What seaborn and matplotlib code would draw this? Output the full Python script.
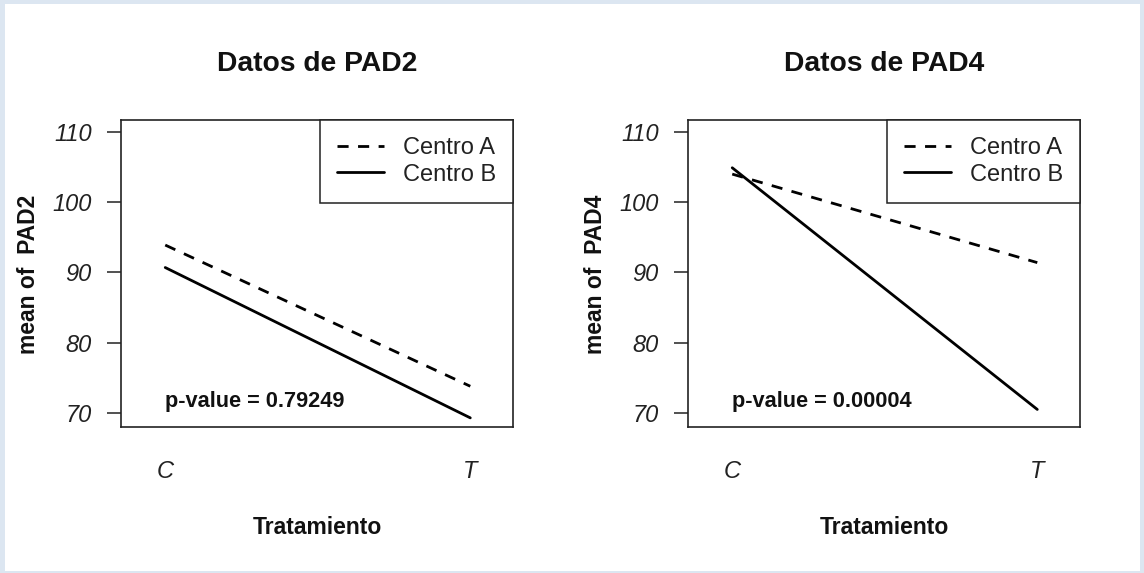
import matplotlib
matplotlib.use("Agg")
import matplotlib.pyplot as plt
import seaborn as sns
import pandas as pd
from matplotlib.lines import Line2D
from matplotlib.patches import Rectangle

# ---- data ----
tratamiento = ["C", "T"]
centros = ["Centro A", "Centro B"]
pad2_centro_a = [93.9, 73.8]
pad2_centro_b = [90.7, 69.3]
pad4_centro_a = [104.0, 91.4]
pad4_centro_b = [104.9, 70.5]
titles = ["Datos de PAD2", "Datos de PAD4"]
ylabels = ["mean of  PAD2", "mean of  PAD4"]
pvalues = ["p-value = 0.79249", "p-value = 0.00004"]
yticks = [70, 80, 90, 100, 110]

sns.set_theme(style="white")
plt.rcParams["font.family"] = ["Liberation Sans", "DejaVu Sans"]

W, H = 1144, 573
fig = plt.figure(figsize=(W / 100, H / 100), dpi=100)
fig.patch.set_facecolor("#dce6f1")
fig.patches.append(Rectangle((5 / W, 1 - 571 / H), (1140 - 5) / W, (571 - 4) / H,
                             transform=fig.transFigure, facecolor="white",
                             edgecolor="none", zorder=-5))

def make_df(a, b):
    rows = []
    for c, vals in zip(centros, [a, b]):
        for t, v in zip(tratamiento, vals):
            rows.append({"Tratamiento": t, "Centro": c, "mean": v})
    return pd.DataFrame(rows)

datasets = [make_df(pad2_centro_a, pad2_centro_b), make_df(pad4_centro_a, pad4_centro_b)]
lefts = [121, 688]
top, bottom = 120, 427
axw = 392

for i, df in enumerate(datasets):
    x0 = lefts[i]
    ax = fig.add_axes([x0 / W, 1 - bottom / H, axw / W, (bottom - top) / H])
    ax.set_facecolor("none")
    ax.set_zorder(2)
    sns.lineplot(data=df, x="Tratamiento", y="mean", style="Centro",
                 style_order=centros,
                 dashes={"Centro A": (4, 3.4), "Centro B": ""},
                 color="black", linewidth=2.0, legend=False, ax=ax)
    ax.set_xlim(-0.145, 1.14)
    ax.set_ylim(68.0, 111.7)
    ax.set_yticks(yticks)
    ax.set_yticklabels([str(v) for v in yticks], fontsize=17, style="italic", color="#222222")
    ax.set_xticks(range(len(tratamiento)))
    ax.set_xticklabels(tratamiento, fontsize=17, style="italic", color="#222222")
    ax.tick_params(axis="y", left=True, length=10, width=1.2, color="#333333", pad=11)
    ax.tick_params(axis="x", bottom=False, length=0, pad=24)
    ax.set_xlabel("")
    ax.set_ylabel("")
    for s in ax.spines.values():
        s.set_visible(True)
        s.set_color("#222222")
        s.set_linewidth(1.2)
    handles = [Line2D([], [], color="black", lw=2.0, dashes=(4, 3.4)),
               Line2D([], [], color="black", lw=2.0)]
    leg = ax.legend(handles, centros, loc="upper right", borderaxespad=0,
                    fontsize=17, frameon=True, fancybox=False, framealpha=1,
                    edgecolor="#222222", handlelength=2.0, handletextpad=0.8,
                    labelspacing=0.2, borderpad=0.72)
    leg.get_frame().set_linewidth(1.1)
    for t in leg.get_texts():
        t.set_color("#222222")
    ax.text(0, 71.6, pvalues[i], ha="left", va="center", fontsize=15.7,
            fontweight="bold", color="#111111")
    cx = x0 + axw / 2
    fig.text(cx / W, 1 - 64 / H, titles[i], ha="center", va="center",
             fontsize=20.3, fontweight="bold", color="#111111")
    fig.text(cx / W, 1 - 528 / H, "Tratamiento", ha="center", va="center",
             fontsize=16.5, fontweight="bold", color="#111111")
    fig.text((x0 - 92) / W, 1 - 274 / H, ylabels[i], ha="center", va="center",
             rotation=90, fontsize=16.5, fontweight="bold", color="#111111")

fig.savefig("out.png", dpi=100, facecolor=fig.get_facecolor())
